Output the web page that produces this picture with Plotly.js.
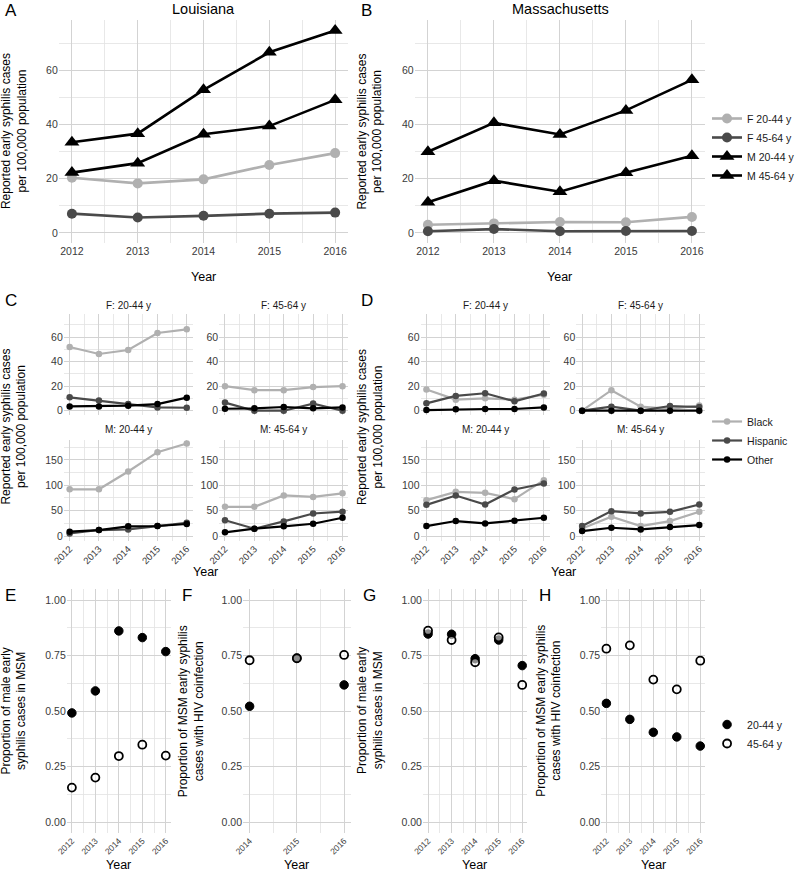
<!DOCTYPE html>
<html>
<head>
<meta charset="utf-8">
<script src="https://cdn.plot.ly/plotly-3.0.1.min.js"></script>
<style>html,body{margin:0;padding:0;background:#fff;}#chart{width:800px;height:871px;}</style>
</head>
<body>
<div id="chart"></div>
<script>
// ---------- DATA ----------
const years = [2012, 2013, 2014, 2015, 2016];
const yearsHivLA = [2014, 2015, 2016];
const sexAgeGroups = ['F 20-44 y', 'F 45-64 y', 'M 20-44 y', 'M 45-64 y'];
const raceGroups = ['Black', 'Hispanic', 'Other'];
const ageGroups = ['20-44 y', '45-64 y'];
const facetTitles = ['F: 20-44 y', 'F: 45-64 y', 'M: 20-44 y', 'M: 45-64 y'];

// Panel A: Louisiana rates per 100,000
const laF2044 = [20.4, 18.3, 19.8, 25.1, 29.5];
const laF4564 = [7.1, 5.7, 6.3, 7.1, 7.5];
const laM2044 = [33.5, 36.7, 52.9, 66.8, 74.9];
const laM4564 = [22.3, 25.8, 36.5, 39.5, 49.2];
// Panel B: Massachusetts
const maF2044 = [3.0, 3.5, 4.0, 3.9, 5.9];
const maF4564 = [0.6, 1.4, 0.6, 0.7, 0.7];
const maM2044 = [30.0, 40.7, 36.4, 45.3, 56.6];
const maM4564 = [11.3, 19.3, 15.2, 22.2, 28.5];

// Panel C: Louisiana by race/ethnicity
const laBlackF2044 = [51.9, 46.2, 49.4, 63.3, 66.3];
const laHispF2044 = [10.9, 8.4, 5.4, 2.7, 2.4];
const laOtherF2044 = [3.5, 3.5, 4.1, 5.4, 10.6];
const laBlackF4564 = [20.0, 16.7, 16.7, 19.2, 20.0];
const laHispF4564 = [6.6, 0.0, 0.0, 5.8, 0.0];
const laOtherF4564 = [1.6, 1.9, 3.0, 1.9, 2.7];
const laBlackM2044 = [92, 92, 127, 165, 182];
const laHispM2044 = [5, 11.8, 13, 19.7, 26];
const laOtherM2044 = [8.6, 11.8, 19, 19.7, 23.7];
const laBlackM4564 = [57.5, 57.5, 80, 77, 84];
const laHispM4564 = [31, 14.4, 28.8, 44.4, 48];
const laOtherM4564 = [7.2, 14.4, 19, 24.2, 36];

// Panel D: Massachusetts by race/ethnicity
const maBlackF2044 = [17.3, 9.0, 10.1, 9.0, 13.0];
const maHispF2044 = [6.0, 12.0, 14.2, 7.7, 14.0];
const maOtherF2044 = [0.5, 1.1, 1.4, 1.4, 2.7];
const maBlackF4564 = [0.0, 16.7, 3.3, 1.5, 4.2];
const maHispF4564 = [0.0, 3.3, 0.0, 3.8, 3.0];
const maOtherF4564 = [0.0, 0.0, 0.0, 0.0, 0.0];
const maBlackM2044 = [70.6, 87, 85, 72.5, 110];
const maHispM2044 = [61.4, 79.7, 62, 91.5, 103.3];
const maOtherM2044 = [19.6, 29.5, 24.8, 30, 36];
const maBlackM4564 = [15, 38, 19.6, 29.4, 47.7];
const maHispM4564 = [19.6, 49, 44.4, 47.7, 62];
const maOtherM4564 = [9.8, 16.3, 13, 17.6, 21.6];

// Panel E: Louisiana proportion MSM
const laMsm2044 = [0.492, 0.591, 0.861, 0.831, 0.768];
const laMsm4564 = [0.156, 0.201, 0.298, 0.349, 0.300];
// Panel F: Louisiana proportion HIV coinfection
const laHiv2044 = [0.522, 0.738, 0.618];
const laHiv4564 = [0.729, 0.738, 0.753];
// Panel G: Massachusetts proportion MSM
const maMsm2044 = [0.847, 0.846, 0.736, 0.820, 0.705];
const maMsm4564 = [0.862, 0.820, 0.720, 0.832, 0.618];
// Panel H: Massachusetts proportion HIV coinfection
const maHiv2044 = [0.535, 0.463, 0.405, 0.384, 0.343];
const maHiv4564 = [0.781, 0.796, 0.642, 0.598, 0.727];

// ---------- STYLE / LAYOUT HELPERS ----------
const W = 800, H = 871;
const FONT = 'Liberation Sans, Arial, sans-serif';
const GRID = '#d3d3d3', MINOR = '#e2e2e2', TICK = '#3a3a3a';
const LIGHT = '#b0b0b0', DARK = '#4a4a4a', BLACK = '#000000';
const px = (a, b) => [a / W, b / W];
const py = (top, bottom) => [1 - bottom / H, 1 - top / H];

const layout = {
  width: W, height: H,
  margin: {l: 0, r: 0, t: 0, b: 0},
  paper_bgcolor: '#fff', plot_bgcolor: 'rgba(0,0,0,0)',
  font: {family: FONT, color: '#1a1a1a'},
  annotations: [],
};

function addAxes(n, xdom, ydom, xr, yr, o) {
  const sx = n === 1 ? '' : String(n);
  layout['xaxis' + sx] = {
    domain: xdom, range: xr, anchor: 'y' + sx,
    tick0: o.xtick0, dtick: 1, showticklabels: o.xlabels,
    tickangle: o.xangle || 0, tickfont: {size: o.xfs || 10.5, color: TICK},
    showgrid: true, gridcolor: GRID, gridwidth: 1,
    minor: {dtick: 0.5, tick0: o.xtick0, showgrid: true, gridcolor: MINOR, gridwidth: 0.8},
    zeroline: false, showline: false, ticks: '', fixedrange: true,
  };
  layout['yaxis' + sx] = {
    domain: ydom, range: yr, anchor: 'x' + sx,
    tick0: 0, dtick: o.ydtick, tickformat: o.yfmt || '',
    tickfont: {size: o.yfs || 10.5, color: TICK},
    showgrid: true, gridcolor: GRID, gridwidth: 1,
    minor: {dtick: o.ydtick / 2, tick0: 0, showgrid: true, gridcolor: MINOR, gridwidth: 0.8},
    zeroline: false, showline: false, ticks: '', fixedrange: true,
  };
}

function ann(text, x, y, size, extra) {
  layout.annotations.push(Object.assign({
    text, x: x / W, y: 1 - y / H, xref: 'paper', yref: 'paper',
    showarrow: false, xanchor: 'center', yanchor: 'middle',
    font: {size, family: FONT, color: '#000'},
  }, extra || {}));
}

const traces = [];
const axRef = n => (n === 1 ? '' : String(n));

// ---------- PANELS A & B ----------
const yrAB = [-3.75, 78.75];
addAxes(1, px(60.5, 358.6), py(20, 243), [2011.8, 2016.2], yrAB, {xtick0: 2012, xlabels: true, ydtick: 20});
addAxes(2, px(427, 726), py(20, 243), [2011.8, 2016.2], yrAB, {xtick0: 2012, xlabels: true, ydtick: 20});

const abStyles = [
  {color: LIGHT, symbol: 'circle', size: 10},
  {color: DARK, symbol: 'circle', size: 10},
  {color: BLACK, symbol: 'triangle-up', size: 13},
  {color: BLACK, symbol: 'triangle-up', size: 13},
];
const abSeries = [[laF2044, laF4564, laM2044, laM4564], [maF2044, maF4564, maM2044, maM4564]];
abSeries.forEach((set, p) => {
  set.forEach((vals, i) => {
    const st = abStyles[i];
    traces.push({
      type: 'scatter', mode: 'lines+markers', x: years, y: vals,
      xaxis: 'x' + axRef(p + 1), yaxis: 'y' + axRef(p + 1),
      name: sexAgeGroups[i], legend: 'legend', showlegend: p === 1,
      line: {color: st.color, width: 2.6},
      marker: {color: st.color, symbol: st.symbol, size: st.size},
    });
  });
});

// ---------- PANELS C & D ----------
const yrTop = [-3.75, 78.75], yrBot = [-9, 189];
const facetX = {
  C: [px(65.7, 198.3), px(225.6, 358.7)],
  D: [px(433, 566), px(593.3, 726)],
};
const rowY = [py(314, 415.3), py(440, 540.6)];
const raceColors = [LIGHT, DARK, BLACK];
const cdData = {
  C: [[laBlackF2044, laHispF2044, laOtherF2044], [laBlackF4564, laHispF4564, laOtherF4564],
      [laBlackM2044, laHispM2044, laOtherM2044], [laBlackM4564, laHispM4564, laOtherM4564]],
  D: [[maBlackF2044, maHispF2044, maOtherF2044], [maBlackF4564, maHispF4564, maOtherF4564],
      [maBlackM2044, maHispM2044, maOtherM2044], [maBlackM4564, maHispM4564, maOtherM4564]],
};
let n = 3;
['C', 'D'].forEach(panel => {
  for (let f = 0; f < 4; f++) {
    const row = f < 2 ? 0 : 1, col = f % 2;
    addAxes(n, facetX[panel][col], rowY[row], [2011.8, 2016.2], row === 0 ? yrTop : yrBot,
      {xtick0: 2012, xlabels: row === 1, xangle: -45, xfs: 9.5, ydtick: row === 0 ? 20 : 50, yfs: 10.5});
    cdData[panel][f].forEach((vals, r) => {
      traces.push({
        type: 'scatter', mode: 'lines+markers', x: years, y: vals,
        xaxis: 'x' + axRef(n), yaxis: 'y' + axRef(n),
        name: raceGroups[r], legend: 'legend2', showlegend: panel === 'D' && f === 0,
        line: {color: raceColors[r], width: 2.2},
        marker: {color: raceColors[r], size: 6.5},
      });
    });
    const xd = facetX[panel][col];
    const cx = (xd[0] + xd[1]) / 2 * W;
    ann(facetTitles[f], cx, row === 0 ? 305 : 430, 10, {font: {size: 10, family: FONT, color: '#1a1a1a'}});
    n++;
  }
});

// ---------- PANELS E - H ----------
const yrProp = [-0.05, 1.05];
const propPanels = [
  {dom: px(68.7, 176), xr: [2011.78, 2016.22], t0: 2012, x: years, a: laMsm2044, b: laMsm4564},
  {dom: px(250.2, 361.1), xr: [2013.86, 2016.14], t0: 2014, x: yearsHivLA, a: laHiv2044, b: laHiv4564},
  {dom: px(435.4, 543), xr: [2011.78, 2016.22], t0: 2012, x: years, a: maMsm2044, b: maMsm4564},
  {dom: px(619, 726.3), xr: [2011.78, 2016.22], t0: 2012, x: years, a: maHiv2044, b: maHiv4564},
];
propPanels.forEach((p, k) => {
  addAxes(n, p.dom, py(588.9, 833.4), p.xr, yrProp,
    {xtick0: p.t0, xlabels: true, xangle: -45, xfs: 8.5, ydtick: 0.25, yfmt: '.2f', yfs: 10.5});
  traces.push({
    type: 'scatter', mode: 'markers', x: p.x, y: p.a,
    xaxis: 'x' + axRef(n), yaxis: 'y' + axRef(n),
    name: ageGroups[0], legend: 'legend3', showlegend: k === 3,
    marker: {color: BLACK, size: 8.5, line: {color: BLACK, width: 1}},
  });
  traces.push({
    type: 'scatter', mode: 'markers', x: p.x, y: p.b,
    xaxis: 'x' + axRef(n), yaxis: 'y' + axRef(n),
    name: ageGroups[1], legend: 'legend3', showlegend: k === 3,
    marker: {color: 'rgba(255,255,255,0.55)', size: 8, line: {color: BLACK, width: 1.8}},
  });
  n++;
});

// ---------- LEGENDS ----------
const legBase = {xref: 'paper', yref: 'paper', xanchor: 'left', yanchor: 'top', bgcolor: 'rgba(0,0,0,0)',
  font: {size: 10.5, family: FONT, color: '#1a1a1a'}, tracegroupgap: 0, itemclick: false};
layout.legend = Object.assign({}, legBase, {x: 728 / W, y: 1 - 104 / H});
layout.legend2 = Object.assign({}, legBase, {x: 728 / W, y: 1 - 407 / H});
layout.legend3 = Object.assign({}, legBase, {x: 728 / W, y: 1 - 710 / H});

// ---------- TEXT ----------
// Panel letters
[['A', 3, 11], ['B', 370, 11], ['C', 3, 300], ['D', 370, 300],
 ['E', 3, 595], ['F', 185, 595], ['G', 372, 595], ['H', 553, 595]].forEach(([t, x, y]) =>
  ann(t, x, y, 17, {xanchor: 'left'}));
// State titles
ann('Louisiana', 210, 9, 14.5);
ann('Massachusetts', 577, 9, 14.5);
// X titles
const yearPos = [[209.5, 277], [576.5, 277], [212, 572], [580, 572], [122, 865], [305, 865], [489, 865], [673, 865]];
yearPos.forEach(([x, y]) => ann('Year', x, y, 12.5));
// Y titles
const rateTitle = 'Reported early syphilis cases<br>per 100,000 population';
const msmTitle = 'Proportion of male early<br>syphilis cases in MSM';
const hivTitle = 'Proportion of MSM early syphilis<br>cases with HIV coinfection';
[[rateTitle, 14, 131.5], [rateTitle, 380, 131.5], [rateTitle, 14, 427], [rateTitle, 381, 427],
 [msmTitle, 14, 711], [hivTitle, 197, 711], [msmTitle, 381, 711], [hivTitle, 565, 711]].forEach(([t, x, y]) =>
  ann(t, x, y, 12, {textangle: -90}));

Plotly.newPlot('chart', traces, layout, {displayModeBar: false, staticPlot: true});
</script>
</body>
</html>
